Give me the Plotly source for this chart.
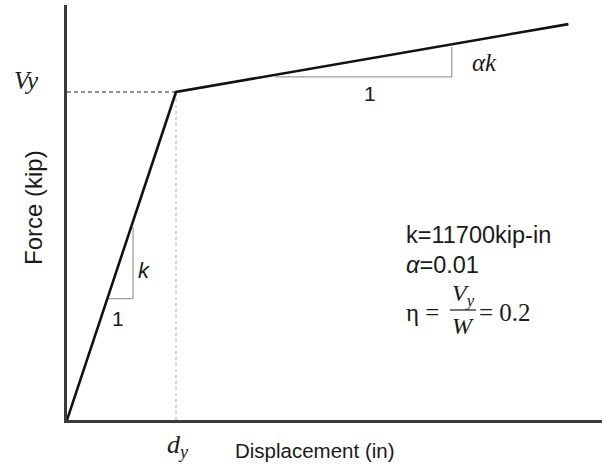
import plotly.graph_objects as go

# Schematic bilinear force-displacement data (normalized: dy = 1, Vy = 1)
curve_disp = [0.0, 1.0, 4.6]
curve_force = [0.0, 1.0, 1.207]

yield_disp = 1.0
yield_force = 1.0

# slope triangles
k_tri_x = [0.37, 0.606, 0.606]
k_tri_y = [0.37, 0.37, 0.587]
ak_tri_x = [1.91, 3.53, 3.53]
ak_tri_y = [1.046, 1.046, 1.137]

W, H = 602, 467
L, R, T, B = 67, 0, 5, 47
PW, PH = W - L - R, H - T - B
X_MAX = PW / 109.0
Y_MAX = PH / 328.0


def P(xp, yp):
    return (xp - L) / PW, (H - B - yp) / PH


SANS = "Liberation Sans, Arial, sans-serif"
SERIF = "Liberation Serif, DejaVu Serif, serif"

fig = go.Figure()

# guide lines
fig.add_trace(go.Scatter(x=[0, yield_disp], y=[yield_force, yield_force], mode="lines",
                         line=dict(color="#222222", width=1, dash="4px,3px"), hoverinfo="skip"))
fig.add_trace(go.Scatter(x=[yield_disp, yield_disp], y=[0, yield_force], mode="lines",
                         line=dict(color="#aaaaaa", width=1, dash="dot"), hoverinfo="skip"))
fig.add_trace(go.Scatter(x=k_tri_x, y=k_tri_y, mode="lines",
                         line=dict(color="#a0a0a0", width=1.3), hoverinfo="skip"))
fig.add_trace(go.Scatter(x=ak_tri_x, y=ak_tri_y, mode="lines",
                         line=dict(color="#a0a0a0", width=1.3), hoverinfo="skip"))
# main curve
fig.add_trace(go.Scatter(x=curve_disp, y=curve_force, mode="lines",
                         line=dict(color="#111111", width=2.6), hoverinfo="skip"))

annots = []


def txt(xp, yp, text, size, family=SANS, xanchor="center", yanchor="middle", angle=0, color="#1a1a1a"):
    x, y = P(xp, yp)
    annots.append(dict(x=x, y=y, xref="paper", yref="paper", text=text, showarrow=False,
                       xanchor=xanchor, yanchor=yanchor, textangle=angle,
                       font=dict(size=size, family=family, color=color)))


txt(26, 80, "<i>Vy</i>", 25, SERIF)
txt(178, 446, "<i>d</i><sub><i>y</i></sub>", 26, SERIF)
txt(233, 450, "Displacement (in)", 20.5, xanchor="left")
txt(33, 208, "Force (kip)", 24, angle=-90)
txt(144, 270, "<i>k</i>", 22)
txt(118, 318, "1", 21)
txt(484, 63, "<i>αk</i>", 25, SERIF)
txt(370, 93, "1", 21)
txt(404, 235, "k=11700kip-in", 23.5, xanchor="left")
txt(404, 265, "<i>α</i>=0.01", 23.5, xanchor="left")
txt(404, 312, "η =", 25, SERIF, xanchor="left")
txt(463, 295, "<i>V</i><sub><i>y</i></sub>", 24, SERIF)
txt(463, 326, "<i>W</i>", 24, SERIF)
txt(477, 312, "= 0.2", 25, SERIF, xanchor="left")

x0, y0 = P(450, 310)
x1, _ = P(476, 310)

fig.update_layout(
    width=W, height=H,
    margin=dict(l=L, r=R, t=T, b=B),
    paper_bgcolor="white", plot_bgcolor="white",
    showlegend=False,
    annotations=annots,
    shapes=[dict(type="line", xref="paper", yref="paper", x0=x0, x1=x1, y0=y0, y1=y0,
                 line=dict(color="#1a1a1a", width=1.2))],
    xaxis=dict(range=[0, X_MAX], showgrid=False, zeroline=False, showticklabels=False, ticks="",
               showline=True, linecolor="#3a3a3a", linewidth=3, fixedrange=True),
    yaxis=dict(range=[0, Y_MAX], showgrid=False, zeroline=False, showticklabels=False, ticks="",
               showline=True, linecolor="#3a3a3a", linewidth=3, fixedrange=True),
)

fig.write_html("out.html", config={"displayModeBar": False},
               post_script="document.body.style.margin='0';document.body.style.overflow='hidden';")
